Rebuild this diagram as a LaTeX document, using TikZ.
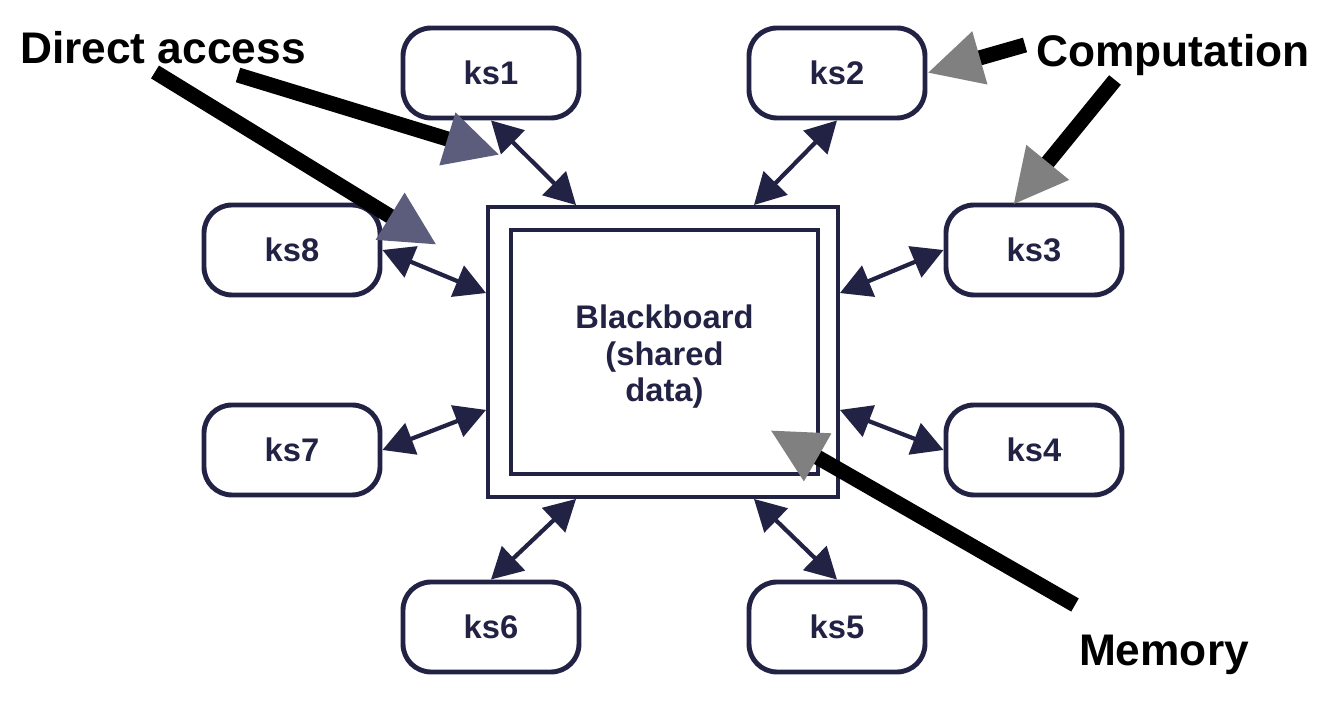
\documentclass[tikz,border=0pt]{standalone}
\usepackage{fontspec}
\setmainfont{Liberation Sans}
\usetikzlibrary{arrows.meta}
\definecolor{navy}{RGB}{34,34,68}
\definecolor{slate}{RGB}{92,92,124}
\definecolor{pointgray}{RGB}{128,128,128}

\begin{document}
\begin{tikzpicture}[
    source/.style={%
        draw=navy, line width=1.4pt, rounded corners=0.28cm, fill=white,
        text=navy, minimum width=1.76cm, minimum height=0.9cm,
        font=\fontsize{9.3}{11}\selectfont\bfseries},
    board/.style={%
        draw=navy, fill=white, minimum width=#1},
    access/.style={%
        navy, line width=1.2pt,
        {Triangle[length=3.1mm,width=3.3mm]}-{Triangle[length=3.1mm,width=3.3mm]}},
    pointer/.style={%
        black, line width=4.3pt,
        -{Triangle[length=5.5mm,width=5.1mm,color=#1]}},
    callout/.style={%
        font=\fontsize{12.6}{15}\selectfont\bfseries},
]
    \useasboundingbox (0,0) rectangle (13.38,7.13);
    % Blackboard
    \node[board=3.5cm, line width=1.1pt, minimum height=2.9cm] (bb) at (6.63,3.61) {};
    \node[board=3.07cm, line width=1.4pt, minimum height=2.44cm] (bbin) at (6.645,3.61) {};
    \node[text=navy, align=center, font=\fontsize{9.3}{10.4}\selectfont\bfseries]
        (bbtext) at ([yshift=-0.5mm]bbin.center) {Blackboard\\(shared\\data)};
    % Knowledge sources
    \node[source] (ks1) at (4.91,6.40) {ks1};
    \node[source] (ks2) at (8.37,6.40) {ks2};
    \node[source] (ks3) at (10.34,4.63) {ks3};
    \node[source] (ks4) at (10.34,2.63) {ks4};
    \node[source] (ks5) at (8.37,0.86) {ks5};
    \node[source] (ks6) at (4.91,0.86) {ks6};
    \node[source] (ks7) at (2.92,2.63) {ks7};
    \node[source] (ks8) at (2.92,4.63) {ks8};
    % Access arrows
    \draw[access] (ks1.south) -- ([xshift=9mm]bb.north west);
    \draw[access] (ks2.south) -- ([xshift=-8.6mm]bb.north east);
    \draw[access] (ks3.west) -- ([yshift=-8.8mm]bb.north east);
    \draw[access] (ks4.west) -- ([yshift=8.9mm]bb.south east);
    \draw[access] (ks5.north) -- ([xshift=-8.6mm]bb.south east);
    \draw[access] (ks6.north) -- ([xshift=9mm]bb.south west);
    \draw[access] (ks7.east) -- ([yshift=8.9mm]bb.south west);
    \draw[access] (ks8.east) -- ([yshift=-8.8mm]bb.north west);
    % Callouts
    \node[callout] (direct) at (1.63,6.65) {Direct access};
    \node[callout] (comp) at (11.73,6.58) {Computation};
    \node[callout] (mem) at (11.64,0.58) {Memory};
    \coordinate (da1) at (2.38,6.38);
    \coordinate (da1tip) at (5.00,5.58);
    \coordinate (da2) at (1.55,6.41);
    \coordinate (da2tip) at (4.37,4.68);
    \coordinate (cp1) at (10.25,6.68);
    \coordinate (cp1tip) at (9.27,6.40);
    \coordinate (cp2) at (11.15,6.33);
    \coordinate (cp2tip) at (10.13,5.08);
    \coordinate (me) at (10.75,1.08);
    \coordinate (metip) at (7.70,2.83);
    \draw[pointer=slate] (da1) -- (da1tip);
    \draw[pointer=slate] (da2) -- (da2tip);
    \draw[pointer=pointgray] (cp1) -- (cp1tip);
    \draw[pointer=pointgray] (cp2) -- (cp2tip);
    \draw[pointer=pointgray] (me) -- (metip);
\end{tikzpicture}
\end{document}
